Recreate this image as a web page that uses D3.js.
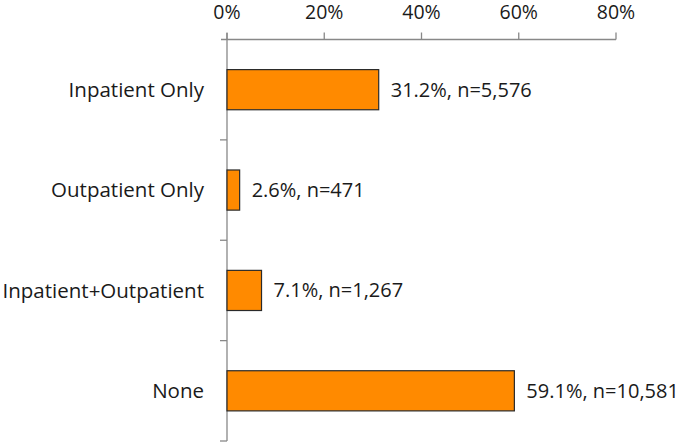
<!DOCTYPE html>
<html><head><meta charset="utf-8">
<script src="https://cdn.jsdelivr.net/npm/d3@7"></script>
<style>body{margin:0;background:#fff}svg{display:block}text{font-family:"Open Sans",sans-serif;fill:#1a1a1a}</style>
</head><body>
<script>
const categories = ["Inpatient Only","Outpatient Only","Inpatient+Outpatient","None"];
const percents = [31.2, 2.6, 7.1, 59.1];
const counts = ["5,576","471","1,267","10,581"];
const tickValues = [0,20,40,60,80];

const W=685,H=443;
const svg=d3.select("body").append("svg").attr("width",W).attr("height",H);
const x=d3.scaleLinear().domain([0,80]).range([227,616]);
const y=d3.scaleBand().domain(categories).range([39.5,441]).paddingInner(0.6).paddingOuter(0.3);
const yb=d3.scaleBand().domain(categories).range([39.5,441]);

// top axis
const gx=svg.append("g").attr("transform","translate(0,39.5)");
gx.append("line").attr("x1",x(0)-6).attr("x2",x(80)).attr("stroke","#888").attr("stroke-width",1.3);
gx.selectAll("line.t").data(tickValues).join("line").attr("class","t")
  .attr("x1",d=>x(d)).attr("x2",d=>x(d)).attr("y1",0).attr("y2",-7).attr("stroke","#888").attr("stroke-width",1.3);
gx.selectAll("text").data(tickValues).join("text")
  .attr("x",d=>x(d)).attr("y",-20.5).attr("text-anchor","middle").attr("font-size",19.5).text(d=>d+"%");

// y axis
const gy=svg.append("g");
gy.append("line").attr("x1",x(0)).attr("x2",x(0)).attr("y1",33).attr("y2",441).attr("stroke","#888").attr("stroke-width",1.3);
const bounds=categories.map(c=>yb(c)+yb.bandwidth());
gy.selectAll("line.t").data(bounds).join("line").attr("class","t")
  .attr("x1",x(0)-7).attr("x2",x(0)).attr("y1",d=>d).attr("y2",d=>d).attr("stroke","#888").attr("stroke-width",1.3);

// bars
svg.selectAll("rect.bar").data(categories).join("rect").attr("class","bar")
  .attr("x",x(0)).attr("y",c=>y(c)).attr("height",y.bandwidth())
  .attr("width",(c,i)=>x(percents[i])-x(0))
  .attr("fill","#FF8A00").attr("stroke","#2a2a2a").attr("stroke-width",1.2);

// category labels
svg.selectAll("text.cat").data(categories).join("text").attr("class","cat")
  .attr("x",204).attr("y",c=>y(c)+y.bandwidth()/2).attr("dy","0.35em")
  .attr("text-anchor","end").attr("font-size",20.5).text(c=>c);

// value labels
svg.selectAll("text.val").data(categories).join("text").attr("class","val")
  .attr("x",(c,i)=>x(percents[i])+12).attr("y",c=>y(c)+y.bandwidth()/2).attr("dy","0.35em")
  .attr("font-size",20).text((c,i)=>percents[i].toFixed(1)+"%, n="+counts[i]);
</script>
</body></html>
